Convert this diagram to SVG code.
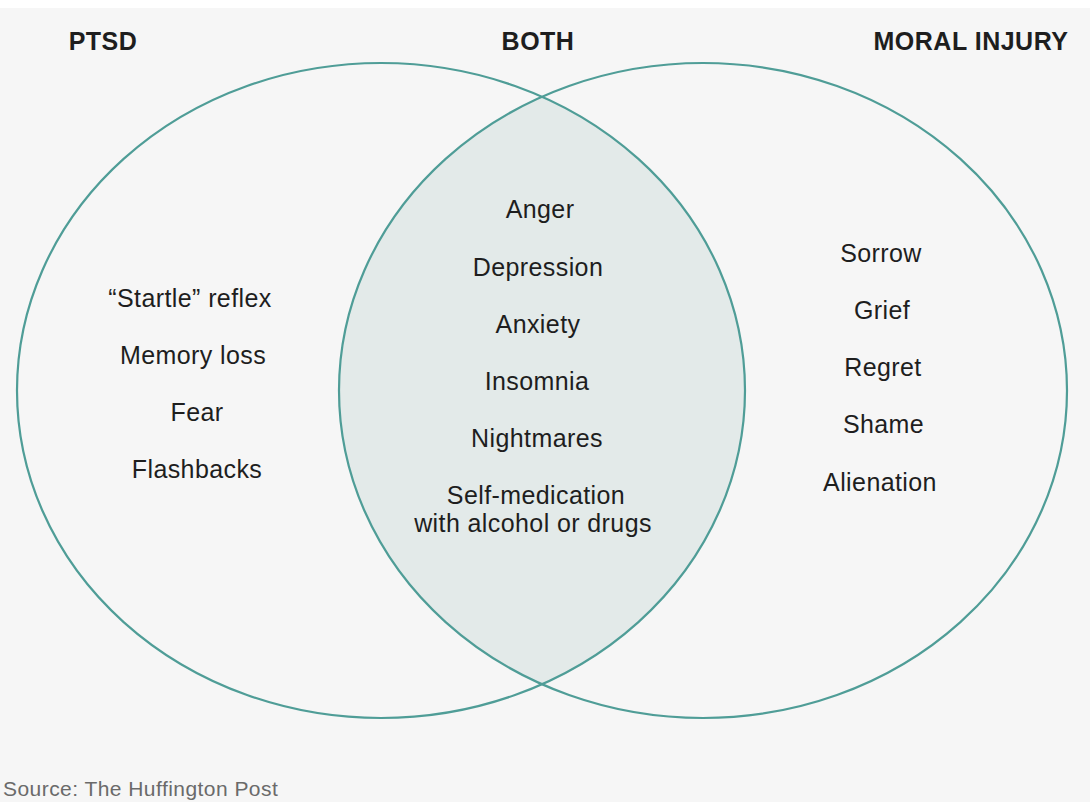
<svg xmlns="http://www.w3.org/2000/svg" width="1090" height="802" viewBox="0 0 1090 802">
  <style>
    .ring { fill: none; stroke: #4f9d97; stroke-width: 2.2; }
    .lens { fill: #e3eae9; }
    .head { font-family: "Liberation Sans", Arial, sans-serif; font-weight: bold; font-size: 25px; letter-spacing: 0.5px; fill: #1e1e1e; text-anchor: middle; }
    .item { font-family: "Liberation Sans", Arial, sans-serif; font-size: 25px; letter-spacing: 0.4px; fill: #1e1e1e; text-anchor: middle; }
    .src { font-family: "Liberation Sans", Arial, sans-serif; font-size: 21px; letter-spacing: 0.45px; fill: #6a6a6a; }
  </style>
  <defs>
    <clipPath id="leftClip">
      <ellipse cx="381" cy="390.5" rx="364" ry="327.5"/>
    </clipPath>
  </defs>

  <!-- background -->
  <rect x="0" y="0" width="1090" height="802" fill="#f6f6f6"/>
  <rect x="0" y="0" width="1090" height="8" fill="#ffffff"/>

  <!-- shared region (overlap of both sets) -->
  <g id="overlap">
    <ellipse class="lens" cx="703" cy="390.5" rx="364" ry="327.5" clip-path="url(#leftClip)"/>
  </g>

  <!-- PTSD set -->
  <g id="ptsd">
    <ellipse class="ring" cx="381" cy="390.5" rx="364" ry="327.5"/>
    <text class="head" x="103" y="50">PTSD</text>
    <text class="item" x="190" y="307">“Startle” reflex</text>
    <text class="item" x="193" y="364">Memory loss</text>
    <text class="item" x="197" y="421">Fear</text>
    <text class="item" x="197" y="478">Flashbacks</text>
  </g>

  <!-- Moral injury set -->
  <g id="moral-injury">
    <ellipse class="ring" cx="703" cy="390.5" rx="364" ry="327.5"/>
    <text class="head" x="971" y="50">MORAL INJURY</text>
    <text class="item" x="881" y="262">Sorrow</text>
    <text class="item" x="882" y="319">Grief</text>
    <text class="item" x="883" y="376">Regret</text>
    <text class="item" x="883.5" y="433">Shame</text>
    <text class="item" x="880" y="491">Alienation</text>
  </g>

  <!-- Items common to both -->
  <g id="both">
    <text class="head" x="538" y="50">BOTH</text>
    <text class="item" x="540" y="218">Anger</text>
    <text class="item" x="538" y="276">Depression</text>
    <text class="item" x="538" y="333">Anxiety</text>
    <text class="item" x="537" y="390">Insomnia</text>
    <text class="item" x="537" y="447">Nightmares</text>
    <text class="item" x="536" y="504">Self-medication</text>
    <text class="item" x="533" y="532">with alcohol or drugs</text>
  </g>

  <g id="source">
    <text class="src" x="3" y="796">Source: The Huffington Post</text>
  </g>
</svg>
